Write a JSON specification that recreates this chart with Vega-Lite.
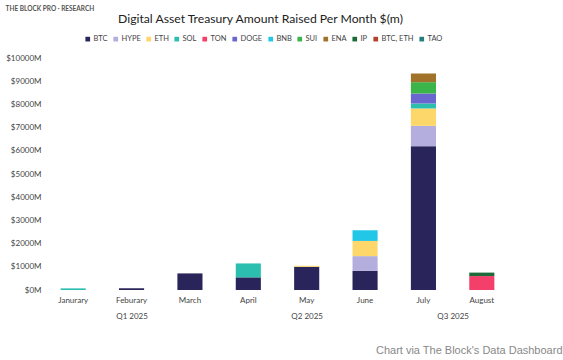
{
  "$schema": "https://vega.github.io/schema/vega-lite/v6.json",
  "autosize": "none",
  "width": 467,
  "height": 232,
  "padding": {"left": 44, "top": 58, "right": 52, "bottom": 70},
  "background": "white",
  "config": {
    "font": "Lato",
    "view": {"stroke": null},
    "axis": {"labelFont": "Lato", "labelColor": "#444", "labelFontSize": 8, "grid": false, "domain": false, "ticks": false, "tickSize": 0}
  },
  "title": {
    "text": "Digital Asset Treasury Amount Raised Per Month $(m)",
    "font": "Lato",
    "fontSize": 12.2,
    "fontWeight": "normal",
    "color": "#222",
    "anchor": "middle",
    "dx": -17,
    "offset": -20
  },
  "datasets": {
    "raised": [
      {"month": "Janurary", "asset": "SOL", "value": 70},
      {"month": "Feburary", "asset": "BTC", "value": 75},
      {"month": "March", "asset": "BTC", "value": 715},
      {"month": "April", "asset": "BTC", "value": 545},
      {"month": "April", "asset": "SOL", "value": 600},
      {"month": "May", "asset": "BTC", "value": 1000},
      {"month": "May", "asset": "ETH", "value": 45},
      {"month": "June", "asset": "BTC", "value": 830},
      {"month": "June", "asset": "HYPE", "value": 630},
      {"month": "June", "asset": "ETH", "value": 655},
      {"month": "June", "asset": "BNB", "value": 460},
      {"month": "July", "asset": "BTC", "value": 6200},
      {"month": "July", "asset": "HYPE", "value": 875},
      {"month": "July", "asset": "ETH", "value": 750},
      {"month": "July", "asset": "SOL", "value": 215},
      {"month": "July", "asset": "DOGE", "value": 430},
      {"month": "July", "asset": "SUI", "value": 487},
      {"month": "July", "asset": "ENA", "value": 375},
      {"month": "August", "asset": "TON", "value": 600},
      {"month": "August", "asset": "IP", "value": 150}
    ],
    "quarters": [
      {"quarter": "Q1 2025", "pos": 2},
      {"quarter": "Q2 2025", "pos": 5},
      {"quarter": "Q3 2025", "pos": 7.5}
    ]
  },
  "layer": [
    {
      "data": {"name": "raised"},
      "transform": [
        {"calculate": "indexof(['BTC','HYPE','ETH','SOL','TON','DOGE','BNB','SUI','ENA','IP','BTC, ETH','TAO'], datum.asset)", "as": "stackOrder"}
      ],
      "mark": {"type": "bar"},
      "encoding": {
        "x": {
          "field": "month",
          "type": "nominal",
          "sort": ["Janurary", "Feburary", "March", "April", "May", "June", "July", "August"],
          "scale": {"paddingInner": 0.57, "paddingOuter": 0.285},
          "axis": {"title": null, "labelAngle": 0, "labelPadding": 6, "orient": "bottom"}
        },
        "y": {
          "field": "value",
          "type": "quantitative",
          "stack": "zero",
          "scale": {"domain": [0, 10000], "nice": false},
          "axis": {
            "values": [0, 1000, 2000, 3000, 4000, 5000, 6000, 7000, 8000, 9000, 10000],
            "labelExpr": "'$' + datum.value + 'M'",
            "labelOverlap": false,
            "labelSeparation": 0,
            "labelPadding": 3,
            "title": "THE BLOCK PRO · RESEARCH",
            "titleAngle": 0,
            "titleX": -39,
            "titleY": -50,
            "titleAlign": "left",
            "titleBaseline": "middle",
            "titleFont": "Lato",
            "titleFontSize": 6.5,
            "titleFontWeight": "bold",
            "titleColor": "#555"
          }
        },
        "color": {
          "field": "asset",
          "type": "nominal",
          "scale": {
            "domain": ["BTC", "HYPE", "ETH", "SOL", "TON", "DOGE", "BNB", "SUI", "ENA", "IP", "BTC, ETH", "TAO"],
            "range": ["#29255a", "#b3aedd", "#fdd76a", "#2cbfb0", "#f43f6b", "#6a66d0", "#22c7e8", "#3bb54a", "#a0722a", "#1d6b3a", "#b4412e", "#227f7c"]
          },
          "legend": {
            "title": null,
            "orient": "none",
            "direction": "horizontal",
            "columns": 12,
            "legendX": 40,
            "legendY": -23,
            "symbolType": "square",
            "symbolSize": 22,
            "symbolStrokeWidth": 0,
            "labelFont": "Lato",
            "labelFontSize": 7.5,
            "labelColor": "#444",
            "labelOffset": 2,
            "columnPadding": 4
          }
        },
        "order": {"field": "stackOrder", "type": "quantitative", "sort": "ascending"}
      }
    },
    {
      "data": {"name": "quarters"},
      "mark": {"type": "tick", "opacity": 0},
      "encoding": {
        "x": {
          "field": "pos",
          "type": "quantitative",
          "scale": {"domain": [0.5, 8.5], "nice": false, "zero": false},
          "axis": {
            "orient": "bottom",
            "offset": 22,
            "values": [2, 5, 7.5],
            "labelExpr": "datum.value == 2 ? 'Q1 2025' : datum.value == 5 ? 'Q2 2025' : 'Q3 2025'",
            "labelPadding": 0,
            "labelFlush": false,
            "labelOverlap": false,
            "title": "Chart via The Block's Data Dashboard",
            "titleFont": "Liberation Sans",
            "titleFontSize": 11,
            "titleFontWeight": "normal",
            "titleColor": "#888",
            "titleAnchor": null,
            "titleAlign": "right",
            "titleBaseline": "middle",
            "titleX": 518,
            "titleY": 38
          }
        }
      }
    }
  ],
  "resolve": {"scale": {"x": "independent"}, "axis": {"x": "independent"}}
}
